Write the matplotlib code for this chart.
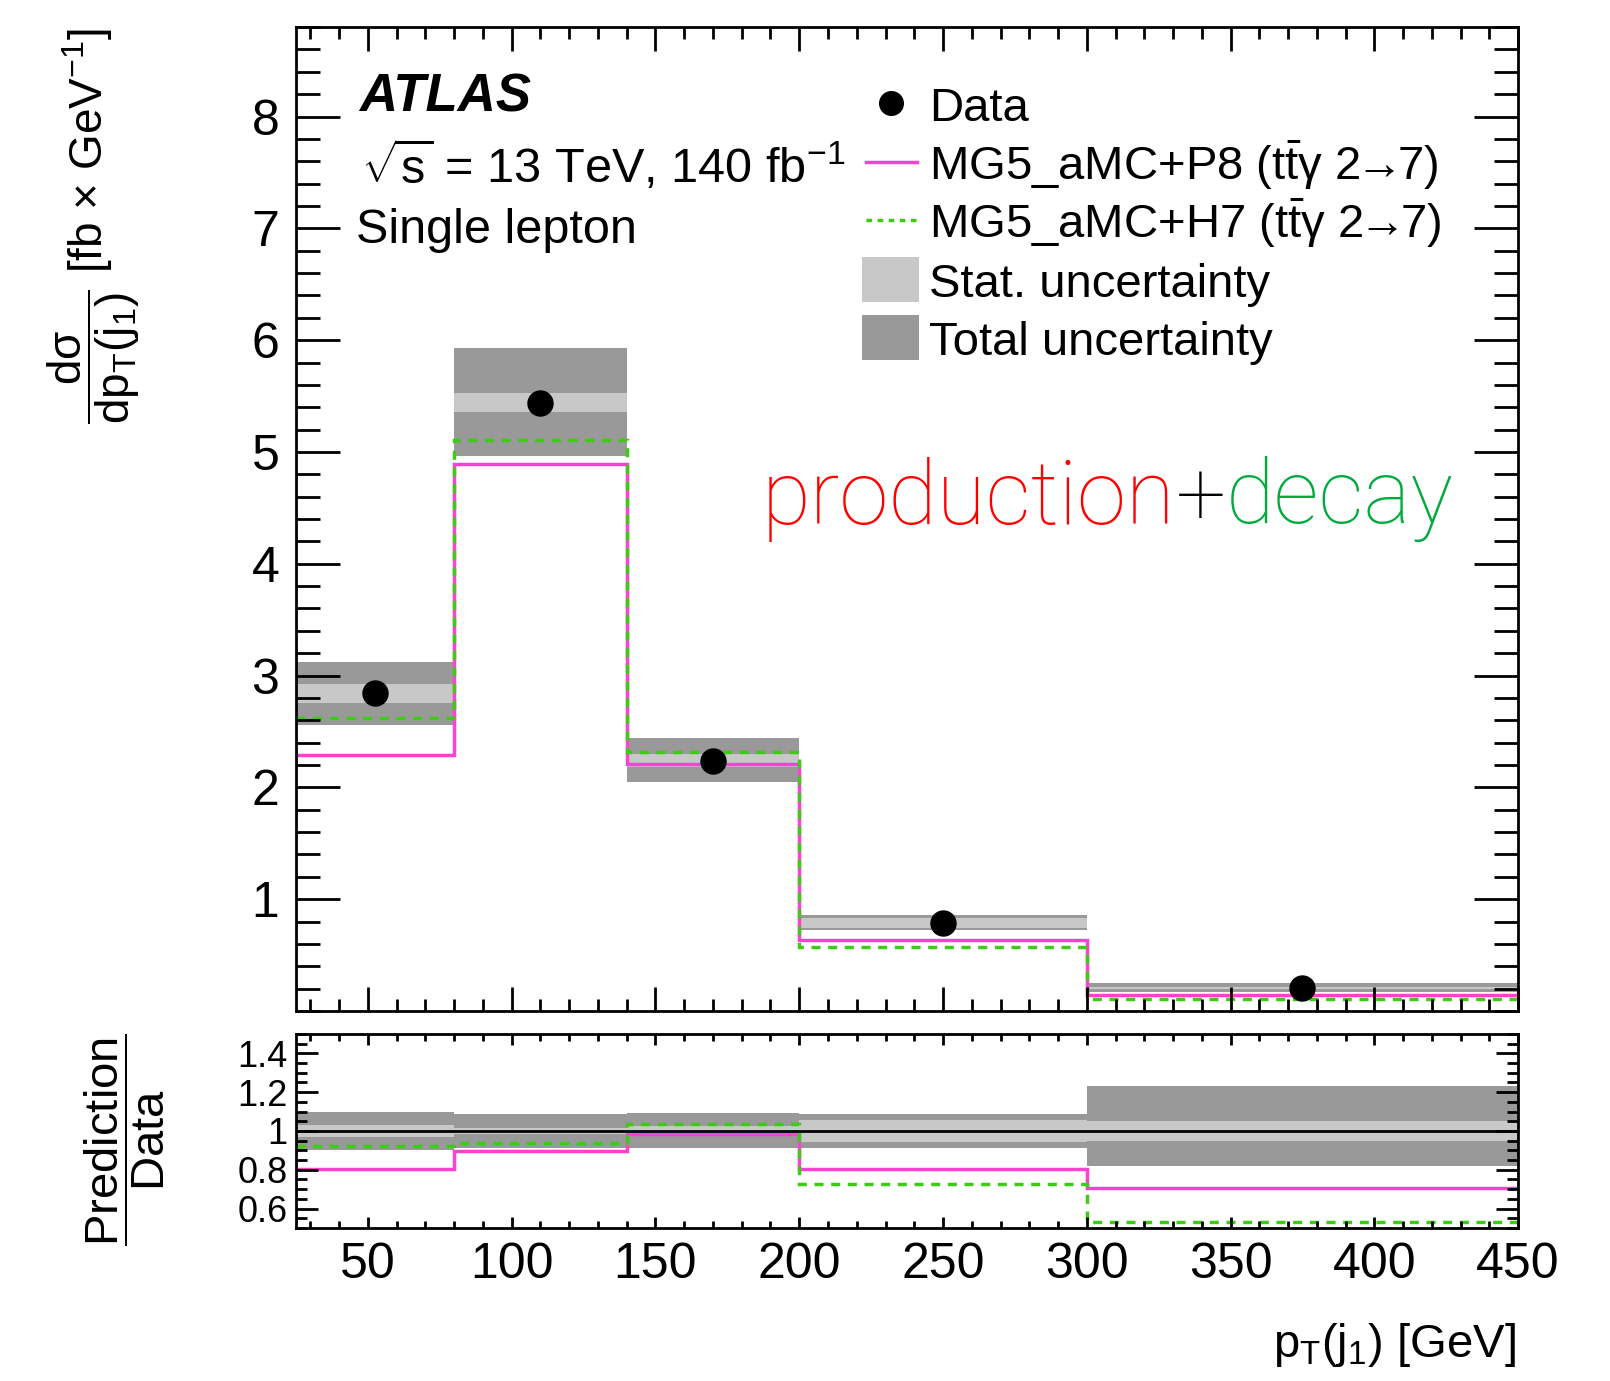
import numpy as np
import matplotlib
matplotlib.use('Agg')
import matplotlib.pyplot as plt
from matplotlib.patches import Rectangle
from matplotlib.ticker import MultipleLocator

plt.rcParams['font.family'] = ['Liberation Sans', 'DejaVu Sans']
plt.rcParams['mathtext.fontset'] = 'custom'
plt.rcParams['mathtext.rm'] = 'Liberation Sans'
plt.rcParams['mathtext.it'] = 'Liberation Sans:italic'
plt.rcParams['mathtext.bf'] = 'Liberation Sans:bold'
plt.rcParams['mathtext.default'] = 'regular'

# bins of leading jet pT [GeV]
edges = np.array([25, 80, 140, 200, 300, 450])
# measured cross section [fb/GeV]
data = np.array([2.84, 5.44, 2.24, 0.79, 0.205])
# relative uncertainties
tot_up = np.array([0.10, 0.09, 0.092, 0.09, 0.234])
tot_dn = np.array([0.10, 0.087, 0.087, 0.088, 0.183])
stat = np.array([0.03, 0.016, 0.025, 0.055, 0.05])
# predictions
p8 = np.array([2.29, 4.89, 2.21, 0.635, 0.145])
h7 = np.array([2.62, 5.11, 2.32, 0.575, 0.109])

xticks = [50, 100, 150, 200, 250, 300, 350, 400, 450]
yticks_main = [1, 2, 3, 4, 5, 6, 7, 8]
yticks_ratio = [0.6, 0.8, 1.0, 1.2, 1.4]
ylabels_ratio = ['0.6', '0.8', '1', '1.2', '1.4']

leg_labels = [
    'Data',
    r'MG5_aMC+P8 ($t\bar{t}\gamma$ 2$\!\!\rightarrow\!\!$7)',
    r'MG5_aMC+H7 ($t\bar{t}\gamma$ 2$\!\!\rightarrow\!\!$7)',
    'Stat. uncertainty',
    'Total uncertainty',
]

c_tot = '#999999'
c_stat = '#c8c8c8'
c_p8 = '#ff40d0'
c_h7 = '#3ccc14'
h7_dash = (0, (2.6, 2.2))

centers = 0.5 * (edges[1:] + edges[:-1])

fig = plt.figure(figsize=(16.1, 13.81), dpi=100)
ax = fig.add_axes([0.1839, 0.2679, 0.7590, 0.7125])
rax = fig.add_axes([0.1839, 0.1108, 0.7590, 0.1405], sharex=ax)

# main panel
ax.stairs(data * (1 + tot_up), edges, baseline=data * (1 - tot_dn), fill=True, color=c_tot, lw=0)
ax.stairs(data * (1 + stat), edges, baseline=data * (1 - stat), fill=True, color=c_stat, lw=0)
ax.stairs(p8, edges, baseline=None, color=c_p8, lw=2.5)
ax.stairs(h7, edges, baseline=None, color=c_h7, lw=2.5, ls=h7_dash)
ax.plot(centers, data, 'o', color='black', ms=18, zorder=5)

# ratio panel
rax.stairs(1 + tot_up, edges, baseline=1 - tot_dn, fill=True, color=c_tot, lw=0)
rax.stairs(1 + stat, edges, baseline=1 - stat, fill=True, color=c_stat, lw=0)
rax.axhline(1, color='black', lw=2)
rax.stairs(p8 / data, edges, baseline=None, color=c_p8, lw=2.5)
rax.stairs(h7 / data, edges, baseline=None, color=c_h7, lw=2.5, ls=h7_dash)

ax.set_xlim(25, 450)
ax.set_ylim(0, 8.8)
rax.set_ylim(0.5, 1.5)

ax.set_xticks(xticks)
ax.xaxis.set_minor_locator(MultipleLocator(10))
ax.set_yticks(yticks_main)
ax.yaxis.set_minor_locator(MultipleLocator(0.2))
rax.set_yticks(yticks_ratio)
rax.set_yticklabels(ylabels_ratio)
rax.yaxis.set_minor_locator(MultipleLocator(0.05))

for a in (ax, rax):
    for s in a.spines.values():
        s.set_linewidth(2)
    a.tick_params(which='both', direction='in', top=True, right=True, width=2)

ax.tick_params(axis='x', which='major', length=17, labelbottom=False)
ax.tick_params(axis='x', which='minor', length=8.5)
ax.tick_params(axis='y', which='major', length=32, labelsize=36, pad=12)
ax.tick_params(axis='y', which='minor', length=17)
rax.tick_params(axis='x', which='major', length=8, labelsize=36, pad=10)
rax.tick_params(axis='x', which='minor', length=5)
rax.tick_params(axis='y', which='major', length=16, labelsize=26, pad=6)
rax.tick_params(axis='y', which='minor', length=8)

# axis titles
fig.text(94 / 1610, 1 - 226 / 1381, r'$\dfrac{d\sigma}{dp_{T}(j_{1})}$ [fb $\times$ GeV$^{-1}$]',
         rotation=90, ha='center', va='center', fontsize=33)
fig.text(125 / 1610, 1 - 1140 / 1381, r'$\dfrac{Prediction}{Data}$',
         rotation=90, ha='center', va='center', fontsize=34)
fig.text(1516 / 1610, 1 - 1345 / 1381, r'$p_{T}(j_{1})$ [GeV]', ha='right', va='center', fontsize=34)

ax.text(0.0516, 0.9146, 'ATLAS', transform=ax.transAxes, fontsize=38,
        fontweight='bold', fontstyle='italic', va='baseline')
ax.text(0.0532, 0.8415, r'$\sqrt{s}$ = 13 TeV, 140 fb$^{-1}$', transform=ax.transAxes,
        fontsize=35, va='baseline')
ax.text(0.0491, 0.7805, 'Single lepton', transform=ax.transAxes, fontsize=35, va='baseline')

t1 = ax.text(0.3813, 0.4949, 'production', transform=ax.transAxes, fontsize=64,
             color='#ff0000', va='baseline', family='Roboto', fontweight='light')
t2 = ax.annotate('+', xy=(1, 0), xycoords=t1, ha='left', va='bottom', fontsize=64,
                 color='black', family='Roboto', fontweight='light')
ax.annotate('decay', xy=(1, 0), xycoords=t2, ha='left', va='bottom', fontsize=64,
            color='#00aa3c', family='Roboto', fontweight='light')

# legend, built row by row (ROOT TLegend look)
tr = ax.transAxes
row_y = 1 - (np.array([103, 162, 220, 279, 337]) - 27) / 984
dy_base = 17.5 / 984
x_txt = (929 - 296) / 1222
x_h0, x_h1 = (866 - 296) / 1222, (917 - 296) / 1222
x_p0, x_p1 = (862 - 296) / 1222, (919 - 296) / 1222
ph = 45 / 984
ax.plot([(891 - 296) / 1222], [row_y[0]], 'o', color='black', ms=17, transform=tr, clip_on=False)
ax.plot([x_h0, x_h1], [row_y[1]] * 2, color=c_p8, lw=2.5, transform=tr)
ax.plot([x_h0, x_h1], [row_y[2]] * 2, color=c_h7, lw=2.5, ls=(0, (1.6, 1.6)), transform=tr)
ax.add_patch(Rectangle((x_p0, row_y[3] - ph / 2), x_p1 - x_p0, ph, transform=tr,
                       facecolor=c_stat, edgecolor='none'))
ax.add_patch(Rectangle((x_p0, row_y[4] - ph / 2), x_p1 - x_p0, ph, transform=tr,
                       facecolor=c_tot, edgecolor='none'))
for yy, lab in zip(row_y, leg_labels):
    ax.text(x_txt, yy - dy_base, lab, transform=tr, fontsize=34, va='baseline', ha='left')

fig.savefig('out.png', dpi=100, facecolor='white')
